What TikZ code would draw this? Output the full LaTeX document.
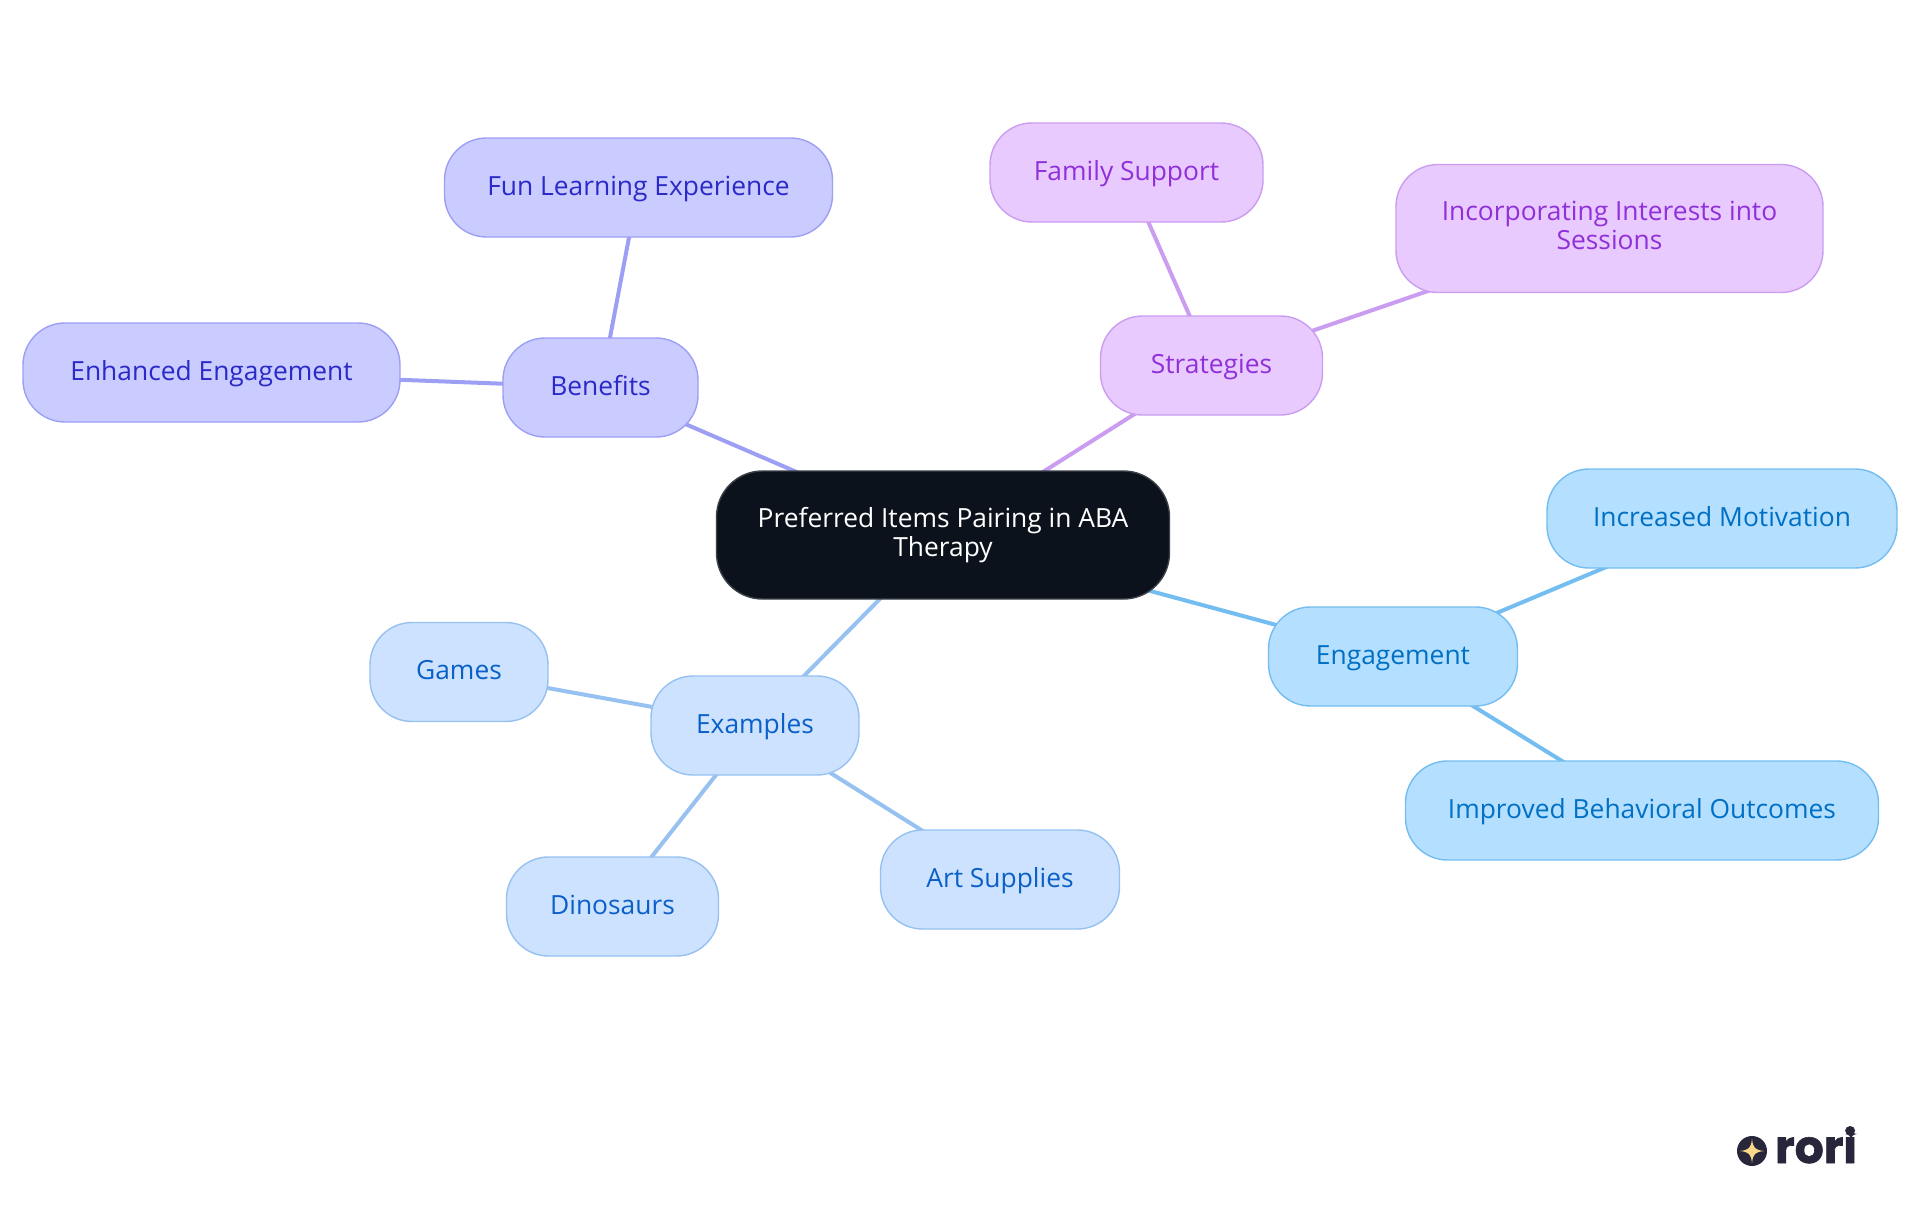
\documentclass[tikz,border=0pt]{standalone}
\usepackage{fontspec}
\setmainfont{Open Sans}
\newfontfamily\logofont[FakeBold=1.2]{Poppins}
\usetikzlibrary{backgrounds}
\definecolor{rootfill}{HTML}{0B121B}
\definecolor{rootline}{HTML}{3C4249}
\definecolor{benefill}{HTML}{CACBFF}
\definecolor{beneline}{HTML}{9D9FF5}
\definecolor{benetext}{HTML}{2A2AC8}
\definecolor{stratfill}{HTML}{E8CAFF}
\definecolor{stratline}{HTML}{CB9DF0}
\definecolor{strattext}{HTML}{9030D8}
\definecolor{engfill}{HTML}{B5DFFF}
\definecolor{engline}{HTML}{74BDF0}
\definecolor{engtext}{HTML}{0070C4}
\definecolor{exfill}{HTML}{CCE2FF}
\definecolor{exline}{HTML}{97C1F0}
\definecolor{extext}{HTML}{0B60C8}
\definecolor{logodark}{HTML}{28263A}
\definecolor{logostar}{HTML}{FBD988}
\newcommand{\mapstrut}{\vrule width 0pt height 6.2pt depth 1.8pt\relax}
\tikzstyle{mapnode}=[rectangle,rounded corners=0.42cm,inner sep=0pt,align=center,line width=0.4pt,font=\fontsize{7.5}{8.4}\selectfont,execute at begin node=\mapstrut,execute at end node=\mapstrut]
\tikzstyle{rootnode}=[mapnode,rounded corners=0.46cm,fill=rootfill,draw=rootline,text=white]
\tikzstyle{benenode}=[mapnode,fill=benefill,draw=beneline,text=benetext]
\tikzstyle{stratnode}=[mapnode,fill=stratfill,draw=stratline,text=strattext]
\tikzstyle{engnode}=[mapnode,fill=engfill,draw=engline,text=engtext]
\tikzstyle{exnode}=[mapnode,fill=exfill,draw=exline,text=extext]
\tikzstyle{edge}=[draw,line width=0.04cm]

\begin{document}
\begin{tikzpicture}[x=0.01cm,y=-0.01cm]
    \useasboundingbox (0,0) rectangle (1920,1215);
    % First we draw the nodes
    \foreach \pos/\name/\nw/\nh/\kind/\txt in {
        {(943,535)/root/453/128/rootnode/{Preferred Items Pairing in ABA\\Therapy}},
        {(600.5,387.5)/benefits/195/99/benenode/Benefits},
        {(638.5,187.5)/fun/388/99/benenode/Fun Learning Experience},
        {(211.5,372.5)/enhanced/377/99/benenode/Enhanced Engagement},
        {(1211.5,365.5)/strategies/222/99/stratnode/Strategies},
        {(1126.5,172.5)/family/273/99/stratnode/Family Support},
        {(1609.5,228.5)/interests/427/128/stratnode/{Incorporating Interests into\\Sessions}},
        {(1393,656.5)/engagement/249/99/engnode/Engagement},
        {(1722,518.5)/motivation/350/99/engnode/Increased Motivation},
        {(1642,810.5)/outcomes/473/99/engnode/Improved Behavioral Outcomes},
        {(755,725.5)/examples/208/99/exnode/Examples},
        {(459,672)/games/178/99/exnode/Games},
        {(612.5,906.5)/dinosaurs/212/99/exnode/Dinosaurs},
        {(1000,879.5)/art/239/99/exnode/Art Supplies}}
        \node[\kind, minimum width=\nw*0.01cm, minimum height=\nh*0.01cm] (\name) at \pos {\txt};
    % Connect the nodes, behind them
    \begin{scope}[on background layer]
    \foreach \source/\dest/\kolor in {root/benefits/beneline, benefits/fun/beneline, benefits/enhanced/beneline,
                                      root/strategies/stratline, strategies/family/stratline, strategies/interests/stratline,
                                      root/engagement/engline, engagement/motivation/engline, engagement/outcomes/engline,
                                      root/examples/exline, examples/games/exline, examples/dinosaurs/exline, examples/art/exline}
        \path[edge, draw=\kolor] (\source.center) -- (\dest.center);
    \end{scope}
    % The logo in the corner
    \fill[logodark] (1752,1151) circle (15);
    \fill[logostar] (1752,1139) .. controls (1753,1148) and (1755,1150) .. (1764,1151)
        .. controls (1755,1152) and (1753,1154) .. (1752,1163)
        .. controls (1751,1154) and (1749,1152) .. (1740,1151)
        .. controls (1749,1150) and (1751,1148) .. (1752,1139) -- cycle;
    \node[text=logodark, font=\logofont\bfseries\fontsize{13}{14}\selectfont, inner sep=0pt, anchor=base] (logo) at (1816,1163) {rori};
    \fill[logodark] (1851,1128) .. controls (1851.5,1132) and (1853,1133.5) .. (1857,1134)
        .. controls (1853,1134.5) and (1851.5,1136) .. (1851,1140)
        .. controls (1850.5,1136) and (1849,1134.5) .. (1845,1134)
        .. controls (1849,1133.5) and (1850.5,1132) .. (1851,1128) -- cycle;
\end{tikzpicture}
\end{document}
